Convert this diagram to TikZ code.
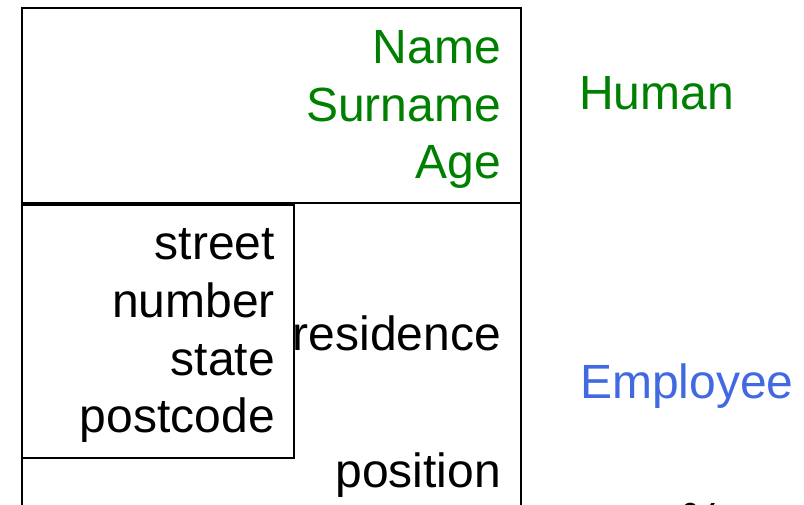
\documentclass[tikz,border=0pt]{standalone}
\usepackage{fontspec}
\setmainfont{Liberation Sans}
\definecolor{hgreen}{RGB}{0,128,0}
\definecolor{eblue}{RGB}{65,105,225}
\begin{document}
\begin{tikzpicture}[x=1pt,y=-1pt,
  lbl/.style={inner sep=0pt,anchor=base east,font=\fontsize{48}{57}\selectfont},
  lbll/.style={inner sep=0pt,anchor=base west,font=\fontsize{48}{57}\selectfont},
  frame/.style={draw=black,line width=2pt}]
\useasboundingbox (0,0) rectangle (804,505);
% outer box and divider
\draw[frame] (22,540) -- (22,8) -- (521,8) -- (521,540);
\draw[frame] (22,203) -- (521,203);
% inner address box
\draw[frame] (22,205) rectangle (294,458);
% Human attributes
\node[lbl,text=hgreen] (name) at (501,64) {Name};
\node[lbl,text=hgreen] (surname) at (501,122) {Surname};
\node[lbl,text=hgreen] (age) at (501,179) {Age};
% address
\node[lbl] (street) at (275,260) {street};
\node[lbl] (number) at (275,318) {number};
\node[lbl] (state) at (275,375) {state};
\node[lbl] (postcode) at (275,432) {postcode};
\node[lbl] (residence) at (501,351) {residence};
\node[lbl] (position) at (501,487) {position};
% class labels
\node[lbll,text=hgreen] (human) at (579,110) {Human};
\node[lbll,text=eblue] (employee) at (580,398) {Employee};
\node[lbll] (cut) at (681,536) {\%};
\end{tikzpicture}
\end{document}
